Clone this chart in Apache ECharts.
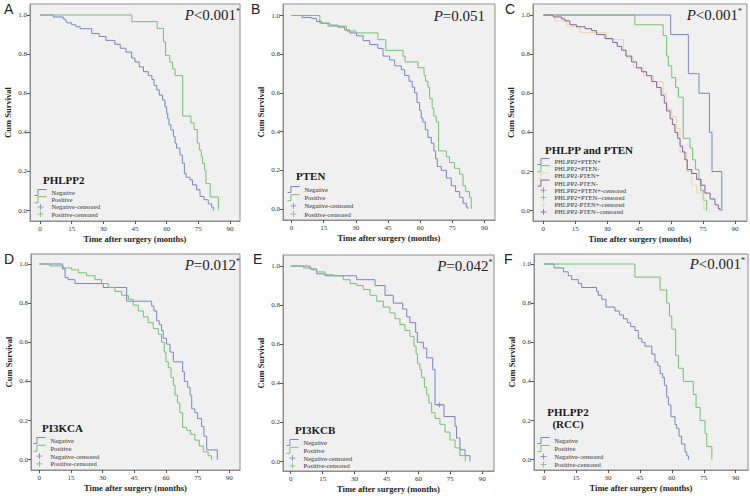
<!DOCTYPE html>
<html><head><meta charset="utf-8">
<script src="https://cdn.jsdelivr.net/npm/echarts@6/dist/echarts.min.js"></script>
<style>html,body{margin:0;padding:0;background:#fff}#c{width:750px;height:496px}</style>
</head><body><div id="c"></div>
<script>
// ---------- tick labels ----------
const xTicks = [0, 15, 30, 45, 60, 75, 90];
const yTicks = [0, 0.2, 0.4, 0.6, 0.8, 1.0];

// ---------- Panel A: PHLPP2 ----------
const aNegT = [0,6.3,11,12,12.6,15,17,19,24.5,28,31.3,35.5,38,40.7,43.4,45,47,49,51.3,53,54,55.3,56.5,58,59.2,60,60.5,61.1,62,63.2,64,64.7,66.3,67.4,68.4,69.2,71,72.2,74.2,75.8,77.7,79.7,81.3,82.1];
const aNegS = [1.0,0.99,0.98,0.97,0.96,0.95,0.94,0.93,0.905,0.89,0.87,0.85,0.83,0.81,0.78,0.76,0.735,0.71,0.69,0.67,0.64,0.617,0.59,0.565,0.53,0.497,0.47,0.438,0.412,0.378,0.344,0.319,0.284,0.242,0.19,0.17,0.157,0.131,0.106,0.072,0.055,0.034,0.017,0.0];
const aPosT = [0,43.5,55.5,58.5,59.5,61.5,62.8,64,67.6,71.5,73,74.5,75.5,76.4,77,78,78.6,80.6,84.5];
const aPosS = [1.0,0.966,0.931,0.862,0.793,0.759,0.724,0.69,0.483,0.448,0.414,0.345,0.31,0.276,0.241,0.207,0.138,0.069,0.0];

// ---------- Panel B: PTEN ----------
const bNegT = [0,5,9.3,11.6,14,17.8,21.7,24.8,27.2,30.3,33.4,36.5,40.3,42.7,45.8,48.1,51.2,52.8,54.8,56.3,57.4,58.5,59.7,60.5,61.3,62.4,63.6,65.2,66.4,67.2,68,69.8,72.2,74.5,76.5,78.4,80,81.5,82.2];
const bNegS = [1.0,0.99,0.985,0.97,0.96,0.95,0.94,0.925,0.91,0.895,0.87,0.85,0.83,0.79,0.77,0.74,0.72,0.69,0.66,0.63,0.60,0.55,0.51,0.47,0.45,0.41,0.37,0.34,0.30,0.26,0.22,0.20,0.16,0.12,0.09,0.06,0.03,0.01,0.0];
const bPosT = [0,13.2,17,25.6,30,40.3,44,52,53,59,61.8,62.5,63.6,64.4,65.6,66.4,67.5,68.6,72.2,73.7,76,78.4,80,81.2,83,83.8];
const bPosS = [1.0,0.96,0.945,0.92,0.91,0.875,0.82,0.79,0.76,0.73,0.69,0.66,0.63,0.57,0.52,0.48,0.45,0.30,0.27,0.24,0.21,0.18,0.12,0.09,0.06,0.0];

// ---------- Panel C: PHLPP and PTEN ----------
const cPPT = [0,59.8,68.1,73.1,78,79.2,83.8];
const cPPS = [1.0,0.9,0.7,0.6,0.4,0.2,0.0];
const cPNT = [0,43,56.3,57.9,58.7,60.3,62.1,63.4,65.7,68.9,70.1,71.5,73.1,73.9,75.1,76.7];
const cPNS = [1.0,0.95,0.895,0.79,0.74,0.68,0.63,0.58,0.37,0.32,0.26,0.21,0.16,0.105,0.053,0.0];
const cNPT = [0,5.5,11,17.2,29.7,37.6,39.1,42.3,47,51.7,56.3,57.9,60.3,62.6,64.2,67.3,69.7,72,75.4];
const cNPS = [1.0,0.97,0.94,0.91,0.875,0.82,0.78,0.73,0.69,0.66,0.60,0.52,0.48,0.42,0.30,0.20,0.13,0.09,0.0];
const cNNT = [0,4.7,8.6,10.2,12.5,15.6,19.6,22.7,25,29,32.6,34.7,36.8,38.8,41.5,43.8,46.2,48.5,50.9,53.2,55.3,56.8,57.9,59.5,60.6,61.8,63.1,64.2,65.4,66.5,67.6,69.7,72,74,75.9,78.3,80.6,82.2,83];
const cNNS = [1.0,0.99,0.98,0.97,0.95,0.94,0.93,0.92,0.90,0.88,0.86,0.84,0.82,0.79,0.76,0.73,0.71,0.69,0.66,0.63,0.59,0.55,0.51,0.47,0.44,0.40,0.37,0.33,0.30,0.26,0.21,0.19,0.16,0.13,0.09,0.06,0.03,0.01,0.0];

// ---------- Panel D: PI3KCA ----------
const dNegT = [0,10.9,12.2,13.7,16.9,30.3,41.4,53.2,54.3,55.6,56.8,57.9,58.7,60.3,61.9,63.5,67.9,68.7,70.3,71.4,72.2,73.7,75,76.9,78,79.3,84.3];
const dNegS = [1.0,0.975,0.93,0.92,0.90,0.88,0.81,0.785,0.76,0.71,0.69,0.66,0.62,0.59,0.55,0.50,0.45,0.40,0.37,0.33,0.26,0.24,0.21,0.17,0.12,0.05,0.0];
const dPosT = [0,5,11.4,15.3,18.5,22.4,26.4,29.5,32.7,35.8,39,42.2,44.5,46.9,49.3,51.6,54,56.4,57.9,59.2,60,61.1,62.4,63.5,64.3,65.5,66.6,67.9,69.8,71.7,73.7,75.8,77.7,80,81.6];
const dPosS = [1.0,0.99,0.98,0.97,0.955,0.94,0.92,0.90,0.88,0.86,0.84,0.82,0.79,0.76,0.73,0.70,0.67,0.64,0.60,0.55,0.50,0.47,0.42,0.38,0.33,0.29,0.24,0.165,0.15,0.13,0.10,0.07,0.04,0.02,0.0];

// ---------- Panel E: PI3KCB ----------
const eNegT = [0,9.1,12.2,16.1,31,39.6,44.3,48.2,52.6,54.5,56,58.7,59.5,62.3,63.9,66.7,67.8,72,77.2,77.9,79.5,81.9,84.2];
const eNegS = [1.0,0.985,0.96,0.95,0.93,0.90,0.85,0.81,0.78,0.74,0.71,0.66,0.61,0.58,0.53,0.47,0.29,0.23,0.18,0.12,0.06,0.03,0.0];
const eNegCensT = [69.8];
const eNegCensS = [0.29];
const ePosT = [0,6,9.9,12.2,16.1,20,24.7,27.9,31,34.1,37.3,40.4,43.5,46.6,49,51.3,53.7,56,57.9,58.9,59.6,60.7,61.5,62.8,63.9,64.9,66.2,67.8,70.1,72.5,74.8,77.2,79.5,82];
const ePosS = [1.0,0.99,0.98,0.97,0.955,0.95,0.93,0.91,0.90,0.88,0.85,0.82,0.79,0.76,0.73,0.70,0.67,0.64,0.59,0.55,0.50,0.47,0.43,0.38,0.34,0.30,0.25,0.22,0.19,0.15,0.11,0.07,0.03,0.0];

// ---------- Panel F: PHLPP2 (RCC) ----------
const fNegT = [0,4.7,9.1,11.4,13,16.1,17.7,24.7,25.5,27.1,29.1,33.3,35.4,37.3,39.1,40.7,42.7,44.3,45.9,47.4,50.6,52.1,53.4,54.5,55.7,56.5,57.6,58.4,59.6,61.5,62.3,63.4,64.6,66.2,67,67.8];
const fNegS = [1.0,0.98,0.96,0.94,0.92,0.90,0.88,0.86,0.84,0.82,0.78,0.76,0.74,0.72,0.70,0.68,0.66,0.62,0.60,0.58,0.54,0.50,0.48,0.44,0.42,0.38,0.32,0.28,0.22,0.18,0.16,0.12,0.08,0.04,0.02,0.0];
const fPosT = [0,42.7,54.5,57.6,58.9,60,61.8,63.1,65.4,70.1,71.4,73.3,75.6,76.4,78.8];
const fPosS = [1.0,0.933,0.867,0.80,0.733,0.667,0.533,0.467,0.40,0.333,0.267,0.20,0.133,0.067,0.0];

// ---------- text ----------
const panelLetters = ['A','B','C','D','E','F'];
const pTexts = ['<0.001','=0.051','<0.001','=0.012','=0.042','<0.001'];
const pStars = ['*','','*','*','*','*'];
const legendTitles = ['PHLPP2','PTEN','PHLPP and PTEN','PI3KCA','PI3KCB','PHLPP2\n(RCC)'];

// ---------- styling ----------
const SERIF = '"Liberation Serif","Times New Roman",serif';
const BLUE = '#7a83c4', GREEN = '#72c272', TAN = '#e6d8b0', PURPLE = '#86609a';

const pair = (t, s) => t.map((v, i) => [v, s[i]]);

const panels = [
  {curves: [['Negative', aNegT, aNegS, BLUE], ['Positive', aPosT, aPosS, GREEN]],
   cens: [['Negative-censored', [], [], BLUE], ['Positive-censored', [], [], GREEN]]},
  {curves: [['Negative', bNegT, bNegS, BLUE], ['Positive', bPosT, bPosS, GREEN]],
   cens: [['Negative-censored', [], [], BLUE], ['Positive-censored', [], [], GREEN]]},
  {curves: [['PHLPP2+PTEN+', cPPT, cPPS, BLUE], ['PHLPP2+PTEN-', cPNT, cPNS, GREEN], ['PHLPP2-PTEN+', cNPT, cNPS, TAN], ['PHLPP2-PTEN-', cNNT, cNNS, PURPLE]],
   cens: [['PHLPP2+PTEN+-censored', [], [], BLUE], ['PHLPP2+PTEN--censored', [], [], GREEN], ['PHLPP2-PTEN+-censored', [], [], TAN], ['PHLPP2-PTEN--censored', [], [], PURPLE]]},
  {curves: [['Negative', dNegT, dNegS, BLUE], ['Positive', dPosT, dPosS, GREEN]],
   cens: [['Negative-censored', [], [], BLUE], ['Positive-censored', [], [], GREEN]]},
  {curves: [['Negative', eNegT, eNegS, BLUE], ['Positive', ePosT, ePosS, GREEN]],
   cens: [['Negative-censored', eNegCensT, eNegCensS, BLUE], ['Positive-censored', [], [], GREEN]]},
  {curves: [['Negative', fNegT, fNegS, BLUE], ['Positive', fPosT, fPosS, GREEN]],
   cens: [['Negative-censored', [], [], BLUE], ['Positive-censored', [], [], GREEN]]}
];

const layout = [
  {l:30, r:240, t:4, b:221, x0:40, x90:230, y1:15, y0:210.5, letter:[4,9], p:[240,15], lt:[43,180], lg:[34,189], lgap:0.2},
  {l:283, r:495, t:4, b:220, x0:291.5, x90:484.5, y1:15.5, y0:209, letter:[251,9], p:[485,16], lt:[296,176], lg:[287,186], lgap:1.2},
  {l:533, r:747, t:4, b:221, x0:543.3, x90:735, y1:15, y0:210.7, letter:[505,9], p:[742,15], lt:[545,150], lg:[537,158], lgap:0.2},
  {l:31, r:240, t:254, b:470, x0:39.3, x90:229.3, y1:264, y0:459.7, letter:[4,259], p:[240,265], lt:[42,428], lg:[33,437], lgap:0.8},
  {l:283, r:494, t:255, b:471, x0:290.7, x90:482.3, y1:266, y0:461.5, letter:[253,259], p:[492.5,266], lt:[295,430], lg:[286,439], lgap:0.8},
  {l:534, r:748, t:254, b:470, x0:544, x90:735.7, y1:264, y0:459.7, letter:[504,259], p:[745,264], lt:[568,418], lg:[537,437], lgap:1.0}
];

const grid = [], xAxis = [], yAxis = [], series = [], legend = [], graphic = [];
const plusPath = 'path://M0,5L10,5M5,0L5,10';
const stepPath = 'path://M0,8L4,8L4,1L14,1';

layout.forEach((L, i) => {
  const ppx = (L.x90 - L.x0) / 90;
  const ppy = (L.y0 - L.y1);
  grid.push({left: L.l, top: L.t, width: L.r - L.l, height: L.b - L.t, show: true,
    backgroundColor: '#f0f0f0', borderColor: '#8e8e8e', borderWidth: 1});
  xAxis.push({type: 'value', gridIndex: i,
    min: -(L.x0 - L.l) / ppx, max: 90 + (L.r - L.x90) / ppx,
    splitLine: {show: false},
    axisLine: {show: true, onZero: false, lineStyle: {color: '#8e8e8e', width: 1}},
    axisTick: {show: true, length: 3, lineStyle: {color: '#555'}, customValues: xTicks},
    axisLabel: {customValues: xTicks, fontSize: 7, fontFamily: SERIF, color: '#333', margin: 4},
    name: 'Time after surgery (months)', nameLocation: 'middle', nameGap: 13,
    nameTextStyle: {fontWeight: 'bold', fontSize: 8.5, fontFamily: SERIF, color: '#222'}});
  yAxis.push({type: 'value', gridIndex: i,
    min: -(L.b - L.y0) / ppy, max: 1 + (L.y1 - L.t) / ppy,
    splitLine: {show: false},
    axisLine: {show: true, onZero: false, lineStyle: {color: '#8e8e8e', width: 1}},
    axisTick: {show: true, length: 3, lineStyle: {color: '#555'}, customValues: yTicks},
    axisLabel: {customValues: yTicks, fontSize: 7, fontFamily: SERIF, color: '#333', margin: 3,
      formatter: v => v.toFixed(1)},
    name: 'Cum Survival', nameLocation: 'middle', nameGap: 18, nameRotate: 90,
    nameTextStyle: {fontWeight: 'bold', fontSize: 8.5, fontFamily: SERIF, color: '#222'}});

  const P = panels[i];
  const legData = [];
  P.curves.forEach(([name, t, s, col]) => {
    series.push({type: 'line', name, xAxisIndex: i, yAxisIndex: i, step: 'end',
      data: pair(t, s), symbol: 'none', showSymbol: false, silent: true, animation: false,
      lineStyle: {width: 1, color: col}, itemStyle: {color: col}});
    legData.push({name, icon: stepPath, itemStyle: {color: 'transparent', borderColor: col, borderWidth: 1}});
  });
  P.cens.forEach(([name, t, s, col]) => {
    series.push({type: 'scatter', name, xAxisIndex: i, yAxisIndex: i,
      data: pair(t, s), symbol: plusPath, symbolSize: 6, silent: true, animation: false,
      itemStyle: {color: 'transparent', borderColor: col, borderWidth: 1}});
    legData.push({name, icon: plusPath, itemStyle: {color: 'transparent', borderColor: col, borderWidth: 1}});
  });
  legend.push({left: L.lg[0], top: L.lg[1], orient: 'vertical', padding: 0,
    itemWidth: 12, itemHeight: 6, itemGap: L.lgap, selectedMode: false,
    textStyle: {fontSize: 6.5, fontFamily: SERIF, color: '#333', lineHeight: 6},
    data: legData});

  graphic.push({type: 'text', x: L.letter[0], y: L.letter[1],
    style: {text: panelLetters[i], fontSize: 14, fontFamily: '"Liberation Sans",Arial,sans-serif',
      fill: '#222', align: 'left', verticalAlign: 'middle', textAlign: 'left', textVerticalAlign: 'middle'}});
  graphic.push({type: 'text', x: L.p[0], y: L.p[1],
    style: {text: '{i|P}{n|' + pTexts[i] + '}' + (pStars[i] ? '{s|' + pStars[i] + '}' : ''),
      rich: {i: {fontSize: 15, fontStyle: 'italic', fontFamily: SERIF, fill: '#222'},
             n: {fontSize: 15, fontFamily: SERIF, fill: '#222'},
             s: {fontSize: 8, fontFamily: SERIF, fill: '#222', verticalAlign: 'top'}},
      align: 'right', verticalAlign: 'middle', textAlign: 'right', textVerticalAlign: 'middle'}});
  graphic.push({type: 'text', x: L.lt[0], y: L.lt[1],
    style: {text: legendTitles[i], fontSize: 11, fontWeight: 'bold', fontFamily: SERIF, fill: '#1a1a1a',
      lineHeight: 12.5,
      align: i === 5 ? 'center' : 'left', verticalAlign: 'middle',
      textAlign: i === 5 ? 'center' : 'left', textVerticalAlign: 'middle'}});
});

const chart = echarts.init(document.getElementById('c'), null, {renderer: 'svg', width: 750, height: 496});
chart.setOption({backgroundColor: '#ffffff', animation: false, grid, xAxis, yAxis, series, legend, graphic});
</script>
</body></html>
